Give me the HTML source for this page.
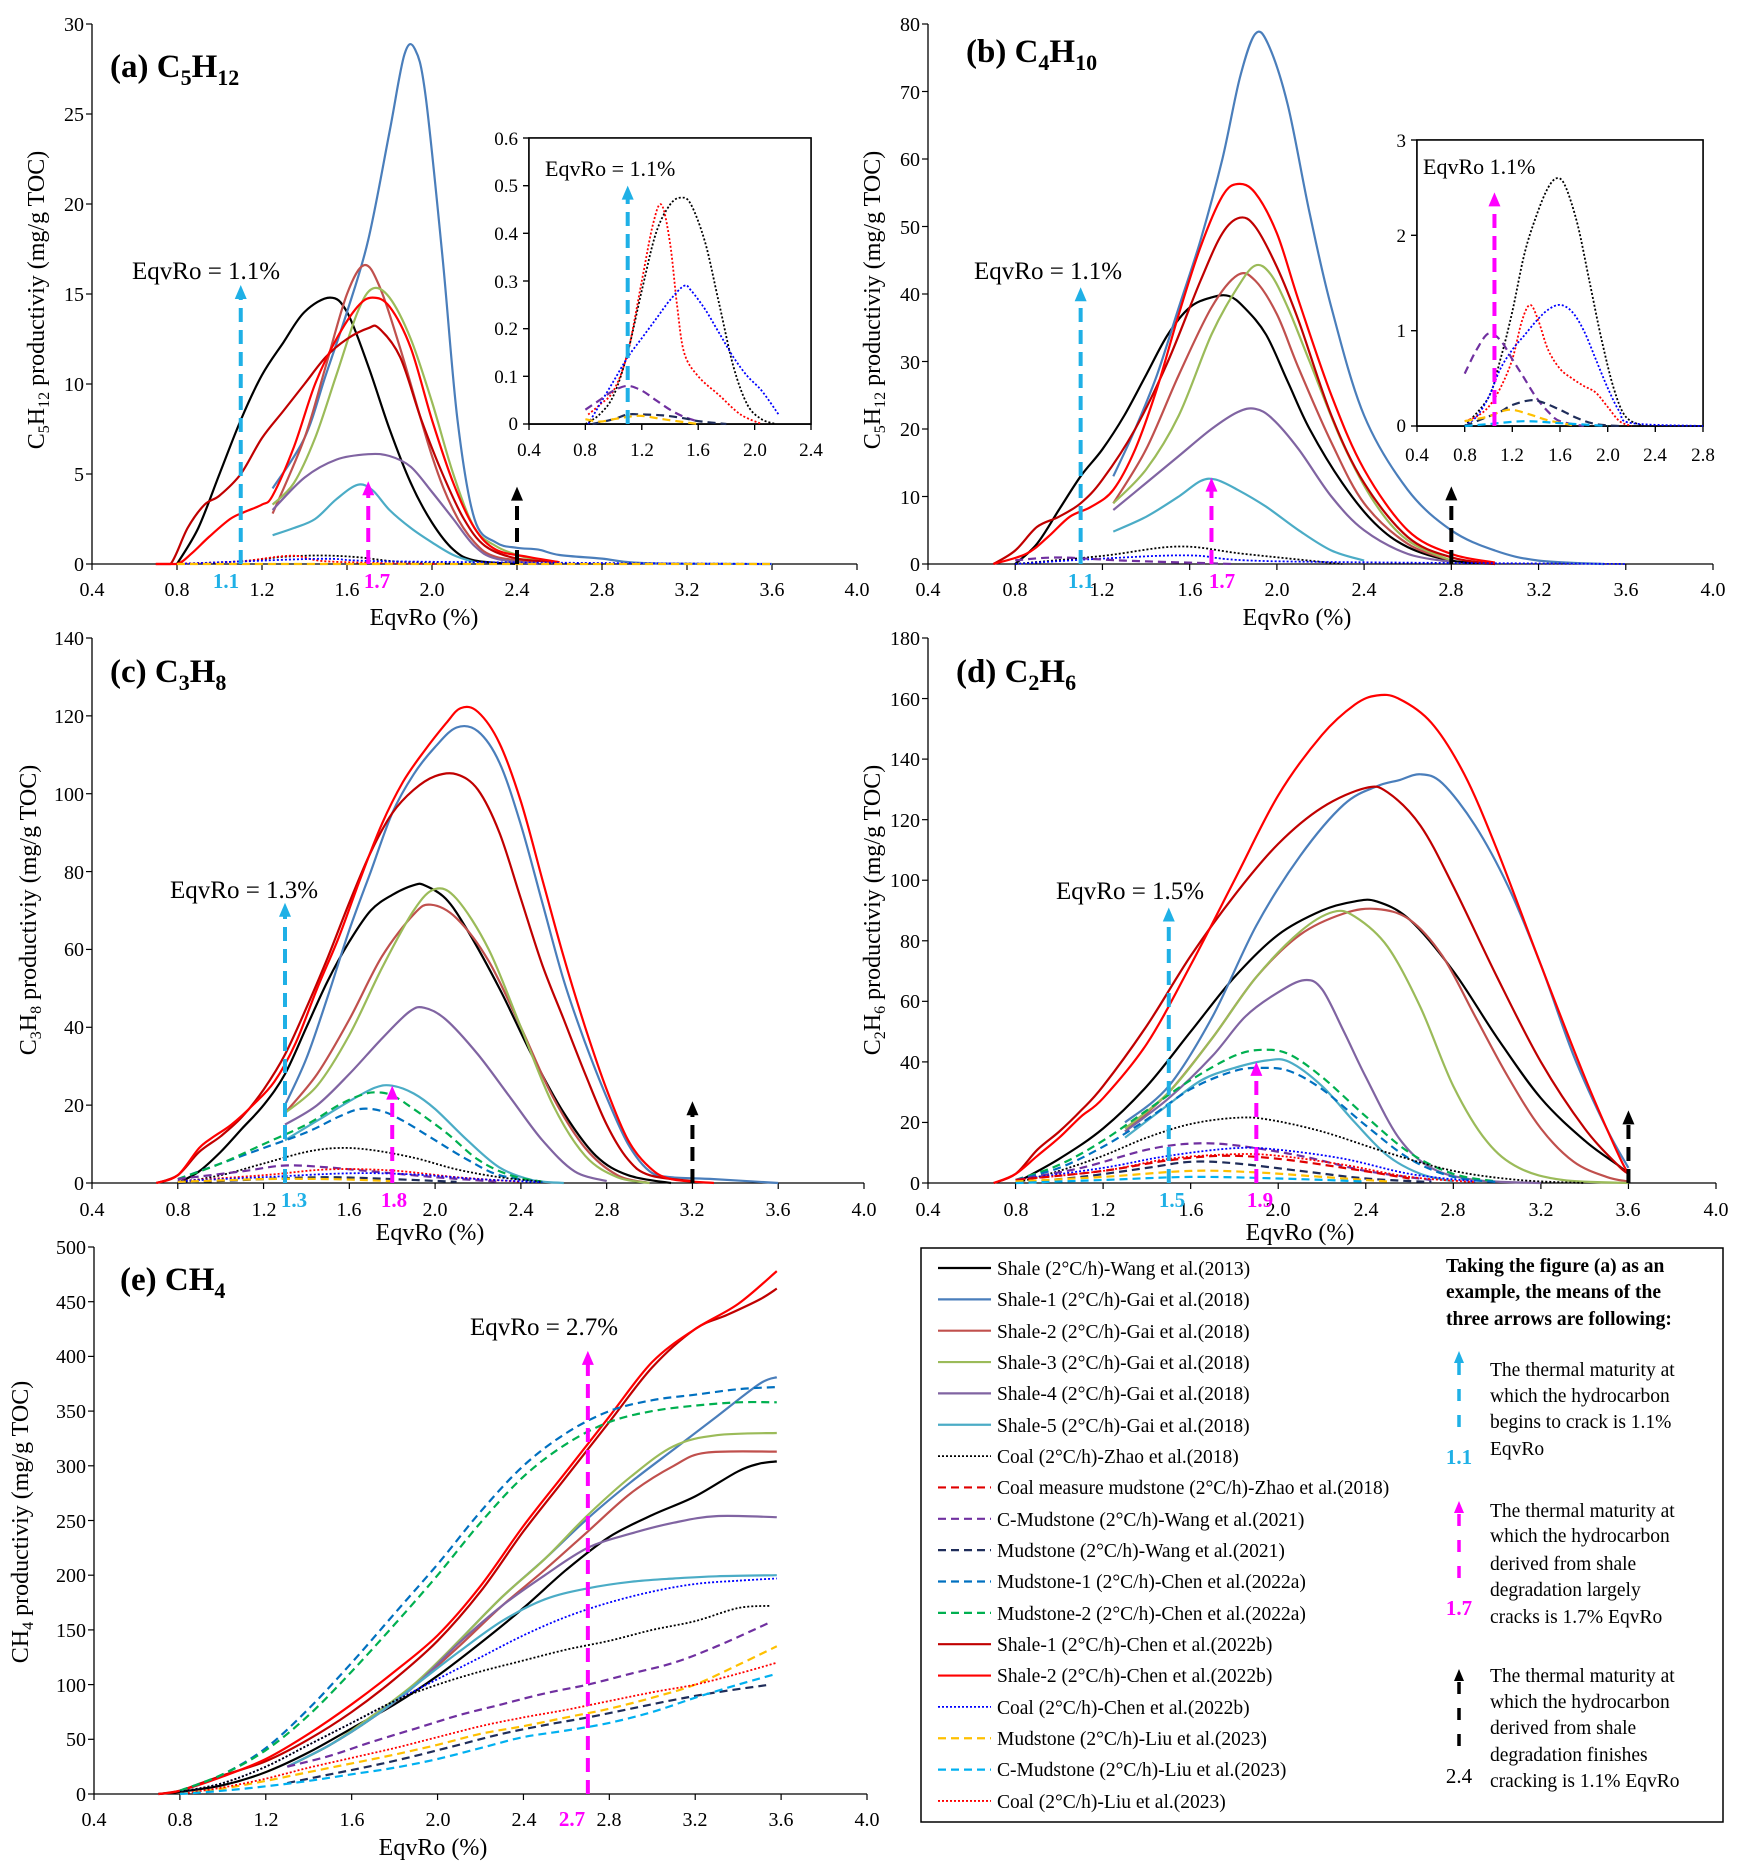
<!DOCTYPE html>
<html><head><meta charset="utf-8"><style>
body{margin:0;background:#fff}
svg{display:block}
text{font-family:"Liberation Serif",serif;fill:#000}
.t{font-size:20px}
.tr{font-size:20px;text-anchor:end}
.tm{font-size:20px;text-anchor:middle}
.ti{font-size:19px;text-anchor:middle}
.tir{font-size:19px;text-anchor:end}
.at{font-size:24px;text-anchor:middle}
.pl{font-size:33px;font-weight:bold}
.an{font-size:25px}
.lg{font-size:19.5px}
.rb{font-size:19.5px;font-weight:bold}
.bl{font-size:21px;font-weight:bold;text-anchor:middle}
</style></head><body>
<svg id="s" width="1753" height="1875" viewBox="0 0 1753 1875" xmlns="http://www.w3.org/2000/svg">
<rect width="1753" height="1875" fill="#fff"/>
<g id="g"></g>

<!-- Panel a -->
<g class="tm">
<text x="92" y="596">0.4</text><text x="177" y="596">0.8</text><text x="262" y="596">1.2</text><text x="347" y="596">1.6</text><text x="432" y="596">2.0</text><text x="517" y="596">2.4</text><text x="602" y="596">2.8</text><text x="687" y="596">3.2</text><text x="772" y="596">3.6</text><text x="857" y="596">4.0</text>
</g>
<g class="tr">
<text x="84" y="571">0</text><text x="84" y="481">5</text><text x="84" y="391">10</text><text x="84" y="301">15</text><text x="84" y="211">20</text><text x="84" y="121">25</text><text x="84" y="31">30</text>
</g>
<text class="at" x="424" y="625">EqvRo (%)</text>
<text class="at" transform="translate(44,300) rotate(-90)">C<tspan font-size="16" dy="5">5</tspan><tspan dy="-5">H</tspan><tspan font-size="16" dy="5">12</tspan><tspan dy="-5"> productiviy (mg/g TOC)</tspan></text>
<text class="pl" x="110" y="77">(a) C<tspan font-size="22" dy="8">5</tspan><tspan dy="-8">H</tspan><tspan font-size="22" dy="8">12</tspan></text>
<text class="an" x="132" y="279">EqvRo = 1.1%</text>
<text class="bl" x="226" y="588" fill="#1fb0e6" style="fill:#1fb0e6">1.1</text>
<text class="bl" x="377" y="588" style="fill:#ff00ff">1.7</text>
<!-- inset a -->
<g class="ti">
<text x="529" y="456">0.4</text><text x="585" y="456">0.8</text><text x="642" y="456">1.2</text><text x="698" y="456">1.6</text><text x="755" y="456">2.0</text><text x="811" y="456">2.4</text>
</g>
<g class="tir">
<text x="518" y="430">0</text><text x="518" y="383">0.1</text><text x="518" y="335">0.2</text><text x="518" y="288">0.3</text><text x="518" y="240">0.4</text><text x="518" y="192">0.5</text><text x="518" y="145">0.6</text>
</g>
<text class="an" x="545" y="176" style="font-size:22px">EqvRo = 1.1%</text>

<!-- Panel b -->
<g class="tm">
<text x="928" y="596">0.4</text><text x="1015" y="596">0.8</text><text x="1102" y="596">1.2</text><text x="1190" y="596">1.6</text><text x="1277" y="596">2.0</text><text x="1364" y="596">2.4</text><text x="1451" y="596">2.8</text><text x="1539" y="596">3.2</text><text x="1626" y="596">3.6</text><text x="1713" y="596">4.0</text>
</g>
<g class="tr">
<text x="920" y="571">0</text><text x="920" y="504">10</text><text x="920" y="436">20</text><text x="920" y="369">30</text><text x="920" y="301">40</text><text x="920" y="234">50</text><text x="920" y="166">60</text><text x="920" y="99">70</text><text x="920" y="31">80</text>
</g>
<text class="at" x="1297" y="625">EqvRo (%)</text>
<text class="at" transform="translate(880,300) rotate(-90)">C<tspan font-size="16" dy="5">5</tspan><tspan dy="-5">H</tspan><tspan font-size="16" dy="5">12</tspan><tspan dy="-5"> productiviy (mg/g TOC)</tspan></text>
<text class="pl" x="966" y="62">(b) C<tspan font-size="22" dy="8">4</tspan><tspan dy="-8">H</tspan><tspan font-size="22" dy="8">10</tspan></text>
<text class="an" x="974" y="279">EqvRo = 1.1%</text>
<text class="bl" x="1081" y="588" style="fill:#1fb0e6">1.1</text>
<text class="bl" x="1222" y="588" style="fill:#ff00ff">1.7</text>
<!-- inset b -->
<g class="ti">
<text x="1417" y="461">0.4</text><text x="1465" y="461">0.8</text><text x="1512" y="461">1.2</text><text x="1560" y="461">1.6</text><text x="1608" y="461">2.0</text><text x="1655" y="461">2.4</text><text x="1703" y="461">2.8</text>
</g>
<g class="tir">
<text x="1406" y="432">0</text><text x="1406" y="337">1</text><text x="1406" y="242">2</text><text x="1406" y="147">3</text>
</g>
<text class="an" x="1423" y="174" style="font-size:22px">EqvRo 1.1%</text>

<!-- Panel c -->
<g class="tm">
<text x="92" y="1216">0.4</text><text x="178" y="1216">0.8</text><text x="264" y="1216">1.2</text><text x="349" y="1216">1.6</text><text x="435" y="1216">2.0</text><text x="521" y="1216">2.4</text><text x="607" y="1216">2.8</text><text x="692" y="1216">3.2</text><text x="778" y="1216">3.6</text><text x="864" y="1216">4.0</text>
</g>
<g class="tr">
<text x="84" y="1190">0</text><text x="84" y="1112">20</text><text x="84" y="1034">40</text><text x="84" y="956">60</text><text x="84" y="879">80</text><text x="84" y="801">100</text><text x="84" y="723">120</text><text x="84" y="645">140</text>
</g>
<text class="at" x="430" y="1240">EqvRo (%)</text>
<text class="at" transform="translate(36,910) rotate(-90)">C<tspan font-size="16" dy="5">3</tspan><tspan dy="-5">H</tspan><tspan font-size="16" dy="5">8</tspan><tspan dy="-5"> productiviy (mg/g TOC)</tspan></text>
<text class="pl" x="110" y="682">(c) C<tspan font-size="22" dy="8">3</tspan><tspan dy="-8">H</tspan><tspan font-size="22" dy="8">8</tspan></text>
<text class="an" x="170" y="898">EqvRo = 1.3%</text>
<text class="bl" x="294" y="1207" style="fill:#1fb0e6">1.3</text>
<text class="bl" x="394" y="1207" style="fill:#ff00ff">1.8</text>

<!-- Panel d -->
<g class="tm">
<text x="928" y="1216">0.4</text><text x="1016" y="1216">0.8</text><text x="1103" y="1216">1.2</text><text x="1191" y="1216">1.6</text><text x="1278" y="1216">2.0</text><text x="1366" y="1216">2.4</text><text x="1453" y="1216">2.8</text><text x="1541" y="1216">3.2</text><text x="1628" y="1216">3.6</text><text x="1716" y="1216">4.0</text>
</g>
<g class="tr">
<text x="920" y="1190">0</text><text x="920" y="1129">20</text><text x="920" y="1069">40</text><text x="920" y="1008">60</text><text x="920" y="948">80</text><text x="920" y="887">100</text><text x="920" y="827">120</text><text x="920" y="766">140</text><text x="920" y="706">160</text><text x="920" y="645">180</text>
</g>
<text class="at" x="1300" y="1240">EqvRo (%)</text>
<text class="at" transform="translate(880,910) rotate(-90)">C<tspan font-size="16" dy="5">2</tspan><tspan dy="-5">H</tspan><tspan font-size="16" dy="5">6</tspan><tspan dy="-5"> productiviy (mg/g TOC)</tspan></text>
<text class="pl" x="956" y="682">(d) C<tspan font-size="22" dy="8">2</tspan><tspan dy="-8">H</tspan><tspan font-size="22" dy="8">6</tspan></text>
<text class="an" x="1056" y="899">EqvRo = 1.5%</text>
<text class="bl" x="1172" y="1207" style="fill:#1fb0e6">1.5</text>
<text class="bl" x="1260" y="1207" style="fill:#ff00ff">1.9</text>

<!-- Panel e -->
<g class="tm">
<text x="94" y="1826">0.4</text><text x="180" y="1826">0.8</text><text x="266" y="1826">1.2</text><text x="352" y="1826">1.6</text><text x="438" y="1826">2.0</text><text x="524" y="1826">2.4</text><text x="609" y="1826">2.8</text><text x="695" y="1826">3.2</text><text x="781" y="1826">3.6</text><text x="867" y="1826">4.0</text>
</g>
<g class="tr">
<text x="86" y="1801">0</text><text x="86" y="1746">50</text><text x="86" y="1692">100</text><text x="86" y="1637">150</text><text x="86" y="1582">200</text><text x="86" y="1528">250</text><text x="86" y="1473">300</text><text x="86" y="1418">350</text><text x="86" y="1363">400</text><text x="86" y="1309">450</text><text x="86" y="1254">500</text>
</g>
<text class="at" x="433" y="1855">EqvRo (%)</text>
<text class="at" transform="translate(28,1522) rotate(-90)">CH<tspan font-size="16" dy="5">4</tspan><tspan dy="-5"> productiviy (mg/g TOC)</tspan></text>
<text class="pl" x="120" y="1290">(e) CH<tspan font-size="22" dy="8">4</tspan></text>
<text class="an" x="470" y="1335">EqvRo = 2.7%</text>
<text class="bl" x="572" y="1826" style="fill:#ff00ff">2.7</text>

<!-- Legend -->
<rect x="921" y="1248" width="802" height="574" fill="none" stroke="#000" stroke-width="1.5"/>
<g class="lg">
<text x="997" y="1275">Shale (2°C/h)-Wang et al.(2013)</text>
<text x="997" y="1306">Shale-1 (2°C/h)-Gai et al.(2018)</text>
<text x="997" y="1338">Shale-2 (2°C/h)-Gai et al.(2018)</text>
<text x="997" y="1369">Shale-3 (2°C/h)-Gai et al.(2018)</text>
<text x="997" y="1400">Shale-4 (2°C/h)-Gai et al.(2018)</text>
<text x="997" y="1432">Shale-5 (2°C/h)-Gai et al.(2018)</text>
<text x="997" y="1463">Coal (2°C/h)-Zhao et al.(2018)</text>
<text x="997" y="1494">Coal measure mudstone (2°C/h)-Zhao et al.(2018)</text>
<text x="997" y="1526">C-Mudstone (2°C/h)-Wang et al.(2021)</text>
<text x="997" y="1557">Mudstone (2°C/h)-Wang et al.(2021)</text>
<text x="997" y="1588">Mudstone-1 (2°C/h)-Chen et al.(2022a)</text>
<text x="997" y="1620">Mudstone-2 (2°C/h)-Chen et al.(2022a)</text>
<text x="997" y="1651">Shale-1 (2°C/h)-Chen et al.(2022b)</text>
<text x="997" y="1682">Shale-2 (2°C/h)-Chen et al.(2022b)</text>
<text x="997" y="1714">Coal (2°C/h)-Chen et al.(2022b)</text>
<text x="997" y="1745">Mudstone (2°C/h)-Liu et al.(2023)</text>
<text x="997" y="1776">C-Mudstone (2°C/h)-Liu et al.(2023)</text>
<text x="997" y="1808">Coal (2°C/h)-Liu et al.(2023)</text>
</g>
<g class="rb">
<text x="1446" y="1272">Taking the figure (a) as an</text>
<text x="1446" y="1298">example, the means of the</text>
<text x="1446" y="1325">three arrows are following:</text>
</g>
<g class="lg">
<text x="1490" y="1376">The thermal maturity at</text>
<text x="1490" y="1402">which the hydrocarbon</text>
<text x="1490" y="1428">begins to crack is 1.1%</text>
<text x="1490" y="1455">EqvRo</text>
<text x="1490" y="1517">The thermal maturity at</text>
<text x="1490" y="1542">which the hydrocarbon</text>
<text x="1490" y="1570">derived from shale</text>
<text x="1490" y="1596">degradation largely</text>
<text x="1490" y="1623">cracks is 1.7%  EqvRo</text>
<text x="1490" y="1682">The thermal maturity at</text>
<text x="1490" y="1708">which the hydrocarbon</text>
<text x="1490" y="1734">derived from shale</text>
<text x="1490" y="1761">degradation finishes</text>
<text x="1490" y="1787">cracking is 1.1% EqvRo</text>
</g>
<text class="bl" x="1459" y="1464" style="fill:#1fb0e6">1.1</text>
<text class="bl" x="1459" y="1615" style="fill:#ff00ff">1.7</text>
<text x="1459" y="1783" style="font-size:21px;text-anchor:middle">2.4</text>
</svg>
<script>
const NS="http://www.w3.org/2000/svg",G=document.getElementById('g');
function el(t,a){const e=document.createElementNS(NS,t);for(const k in a)e.setAttribute(k,a[k]);G.appendChild(e);return e;}
const P={
a:{x0:92,x1:857,yb:564,yt:24,xmin:.4,xmax:4,ymax:30,ys:5,xs:.4},
ai:{x0:529,x1:811,yb:424,yt:138,xmin:.4,xmax:2.4,ymax:.6,ys:.1,xs:.4,box:1},
b:{x0:928,x1:1713,yb:564,yt:24,xmin:.4,xmax:4,ymax:80,ys:10,xs:.4},
bi:{x0:1417,x1:1703,yb:426,yt:140,xmin:.4,xmax:2.8,ymax:3,ys:1,xs:.4,box:1},
c:{x0:92,x1:864,yb:1183,yt:638,xmin:.4,xmax:4,ymax:140,ys:20,xs:.4},
d:{x0:928,x1:1716,yb:1183,yt:638,xmin:.4,xmax:4,ymax:180,ys:20,xs:.4},
e:{x0:94,x1:867,yb:1794,yt:1247,xmin:.4,xmax:4,ymax:500,ys:50,xs:.4}};
function X(p,v){return p.x0+(v-p.xmin)/(p.xmax-p.xmin)*(p.x1-p.x0);}
function Y(p,v){return p.yb-v/p.ymax*(p.yb-p.yt);}
for(const k in P){const p=P[k];
 if(p.box){el('rect',{x:p.x0,y:p.yt,width:p.x1-p.x0,height:p.yb-p.yt,fill:'#fff',stroke:'#000','stroke-width':1.5});}
 el('line',{x1:p.x0,y1:p.yt,x2:p.x0,y2:p.yb,stroke:'#000','stroke-width':1.3});
 el('line',{x1:p.x0,y1:p.yb,x2:p.x1,y2:p.yb,stroke:'#000','stroke-width':1.3});
 for(let v=0;v<=p.ymax+1e-9;v+=p.ys){const y=Y(p,v);el('line',{x1:p.x0-6,y1:y,x2:p.x0,y2:y,stroke:'#000','stroke-width':1.2});}
 for(let v=p.xmin;v<=p.xmax+1e-9;v+=p.xs){const x=X(p,v);el('line',{x1:x,y1:p.yb,x2:x,y2:p.yb+6,stroke:'#000','stroke-width':1.2});}
}
const C={k:'#000',b:'#4a7ebb',br:'#c0504d',g:'#9bbb59',pu:'#8064a2',cy:'#4bacc6',rd:'#e00000',pd:'#7030a0',nv:'#1f2d5a',bd:'#0070c0',gd:'#00b050',dr:'#c00000',r:'#ff0000',bo:'#0000ff',y:'#ffc000',cd:'#00b0f0'};
function curve(p,pts,col,st,w){
 const q=pts.map(a=>[X(p,a[0]),Y(p,Math.max(0,a[1]))]);let d='M'+q[0][0].toFixed(1)+','+q[0][1].toFixed(1);
 for(let i=0;i<q.length-1;i++){const p0=q[i-1]||q[i],p1=q[i],p2=q[i+1],p3=q[i+2]||q[i+1];
  let c1y=p1[1]+(p2[1]-p0[1])/6,c2y=p2[1]-(p3[1]-p1[1])/6;c1y=Math.min(c1y,p.yb);c2y=Math.min(c2y,p.yb);
  d+=' C'+(p1[0]+(p2[0]-p0[0])/6).toFixed(1)+','+c1y.toFixed(1)+' '+(p2[0]-(p3[0]-p1[0])/6).toFixed(1)+','+c2y.toFixed(1)+' '+p2[0].toFixed(1)+','+p2[1].toFixed(1);}
 const a={d:d,fill:'none',stroke:col,'stroke-width':w||(st=='o'?1.8:2.2),'stroke-linejoin':'round'};
 if(st=='d')a['stroke-dasharray']='8 5';if(st=='o')a['stroke-dasharray']='2 2';el('path',a);}
function arrow(p,x,v,col){const px=X(p,x),y0=p.yb,y1=Y(p,v);
 el('line',{x1:px,y1:y0,x2:px,y2:y1+12,stroke:col,'stroke-width':4,'stroke-dasharray':'14 8'});
 el('path',{d:`M${px-6},${y1+14} L${px},${y1} L${px+6},${y1+14} Z`,fill:col});}
// data
const S=[];
function s(pn,c,st,pts){S.push([pn,c,st,pts]);}
// panel a
s('a','k','s',[[.8,0],[.9,2],[1,5],[1.1,8],[1.2,10.5],[1.3,12.3],[1.4,14],[1.52,14.8],[1.6,14],[1.7,11],[1.8,7.5],[1.9,4.5],[2,2.3],[2.1,.8],[2.2,.2],[2.4,0]]);
s('a','b','s',[[1.25,4.2],[1.4,7],[1.5,10.5],[1.6,14],[1.7,18],[1.8,24],[1.87,28.3],[1.92,28.6],[1.97,26],[2.05,17],[2.12,8],[2.2,2.5],[2.3,1.2],[2.4,.9],[2.5,.8],[2.6,.5],[2.8,.3],[3,.05],[3.6,0]]);
s('a','br','s',[[1.25,2.8],[1.4,7],[1.5,11],[1.6,15],[1.68,16.6],[1.75,15.5],[1.85,12],[2,6],[2.1,3],[2.2,1.2],[2.3,.4],[2.5,.1]]);
s('a','g','s',[[1.25,3.3],[1.35,4.5],[1.45,7],[1.55,10.5],[1.65,14],[1.72,15.3],[1.8,14.8],[1.9,12.5],[2,9],[2.1,5],[2.2,2],[2.3,1],[2.4,.5],[2.5,.2]]);
s('a','pu','s',[[1.25,3],[1.4,4.8],[1.55,5.8],[1.7,6.1],[1.8,6],[1.9,5.4],[2,4],[2.1,2.5],[2.2,1],[2.3,.3],[2.5,0]]);
s('a','cy','s',[[1.25,1.6],[1.35,2],[1.45,2.5],[1.55,3.6],[1.65,4.4],[1.72,4.1],[1.8,3],[1.9,2],[2,1.2],[2.1,.5],[2.2,.1]]);
s('a','dr','s',[[.7,0],[.77,0],[.85,2],[.93,3.3],[1,3.8],[1.1,5],[1.2,7],[1.3,8.5],[1.4,10],[1.5,11.5],[1.6,12.5],[1.7,13.1],[1.75,13.1],[1.85,11.5],[1.95,8],[2.05,5],[2.15,2.5],[2.25,1],[2.4,.3],[2.6,.1]]);
s('a','r','s',[[.7,0],[.8,0],[.87,.6],[.95,1.5],[1.05,2.5],[1.12,2.9],[1.2,3.3],[1.25,3.8],[1.35,6.5],[1.45,10],[1.55,12.5],[1.65,14.3],[1.72,14.8],[1.8,14.3],[1.9,12],[2,8],[2.1,4.5],[2.2,2],[2.3,.8],[2.45,.4],[2.6,.1]]);
s('a','k','o',[[.8,0],[1.1,.15],[1.3,.4],[1.48,.47],[1.65,.38],[1.85,.12],[2.15,0]]);
s('a','r','o',[[.82,.02],[1.1,.15],[1.34,.46],[1.5,.15],[1.9,.02],[2.05,0]]);
s('a','bo','o',[[.8,0],[1.1,.14],[1.5,.29],[1.85,.14],[3.6,0]]);
s('a','y','d',[[.8,0],[3.6,0]]);
// inset a
s('ai','k','o',[[.8,0],[.9,.02],[1,.06],[1.1,.15],[1.2,.28],[1.3,.4],[1.4,.46],[1.48,.475],[1.55,.46],[1.65,.38],[1.75,.25],[1.85,.12],[1.95,.04],[2.05,.01],[2.15,0]]);
s('ai','r','o',[[.82,.02],[.9,.04],[1,.07],[1.1,.15],[1.2,.3],[1.28,.42],[1.34,.46],[1.4,.38],[1.45,.25],[1.5,.15],[1.6,.1],[1.75,.06],[1.9,.02],[2.05,0]]);
s('ai','bo','o',[[.82,0],[.9,.04],[1,.09],[1.1,.14],[1.2,.18],[1.3,.22],[1.4,.26],[1.5,.29],[1.55,.28],[1.65,.24],[1.75,.19],[1.85,.14],[1.95,.1],[2.05,.07],[2.17,.02]]);
s('ai','pd','d',[[.8,.03],[.9,.05],[1,.07],[1.1,.08],[1.2,.07],[1.3,.05],[1.4,.03],[1.5,.015],[1.6,.005]]);
s('ai','nv','d',[[.85,0],[1,.01],[1.1,.02],[1.2,.02],[1.35,.018],[1.5,.012],[1.6,.006],[1.8,0]]);
s('ai','y','d',[[.8,.01],[.9,.005],[1,.01],[1.1,.015],[1.2,.017],[1.35,.01],[1.5,.004],[1.6,0]]);
// panel b
s('b','k','s',[[.8,0],[.9,3],[1,8],[1.1,13],[1.2,17],[1.3,22],[1.4,28],[1.5,34],[1.6,38],[1.7,39.5],[1.78,39.7],[1.85,38],[1.95,34],[2.05,27],[2.15,20],[2.3,12],[2.45,6],[2.6,2.5],[2.8,.5],[3,0]]);
s('b','b','s',[[1.25,13],[1.35,20],[1.45,28],[1.55,38],[1.65,48],[1.75,60],[1.83,72],[1.9,78.5],[1.96,77],[2.05,68],[2.15,52],[2.25,38],[2.4,22],[2.6,11],[2.8,5],[3,2],[3.2,.5],[3.5,0]]);
s('b','br','s',[[1.25,9],[1.4,17],[1.55,28],[1.7,38],[1.82,42.8],[1.9,42],[2,37],[2.1,29],[2.25,18],[2.4,9],[2.6,3],[2.8,.5]]);
s('b','g','s',[[1.25,9],[1.4,14],[1.55,22],[1.7,34],[1.82,41],[1.9,44.2],[1.97,43],[2.05,38],[2.15,30],[2.3,18],[2.45,9],[2.6,3.5],[2.8,.5]]);
s('b','pu','s',[[1.25,8],[1.4,12],[1.55,16],[1.7,20],[1.82,22.5],[1.9,23],[1.98,21.5],[2.1,17],[2.25,10],[2.4,5],[2.6,1.5],[2.8,.3]]);
s('b','cy','s',[[1.25,4.8],[1.4,7],[1.55,10],[1.65,12.3],[1.72,12.5],[1.82,11],[1.95,8.5],[2.1,5],[2.25,2],[2.4,.5]]);
s('b','dr','s',[[.7,0],[.8,2],[.9,5.5],[1,7],[1.1,9],[1.2,12.5],[1.35,20],[1.5,30],[1.65,42],[1.75,49],[1.83,51.3],[1.9,50],[2,44],[2.1,36],[2.25,22],[2.4,12],[2.6,4],[2.8,1],[3,0]]);
s('b','r','s',[[.7,0],[.85,1.5],[.95,4],[1.05,7],[1.15,8.5],[1.25,11],[1.35,17],[1.45,26],[1.55,37],[1.65,47],[1.75,54.5],[1.82,56.3],[1.9,55],[2,49],[2.1,39],[2.25,25],[2.4,14],[2.6,5],[2.8,1.5],[3,.2]]);
s('b','k','o',[[.8,0],[1.2,1.2],[1.55,2.6],[1.85,1.5],[2.3,0]]);
s('b','bo','o',[[.8,0],[1.2,.8],[1.6,1.27],[2,.4],[3.6,0]]);
s('b','pd','d',[[.8,.55],[1,.97],[1.3,.5],[1.8,0]]);
// inset b
s('bi','k','o',[[.8,0],[1,.3],[1.1,.7],[1.2,1.2],[1.3,1.8],[1.4,2.2],[1.5,2.5],[1.58,2.6],[1.65,2.5],[1.75,2.1],[1.85,1.5],[1.95,.9],[2.05,.4],[2.15,.1],[2.3,0]]);
s('bi','r','o',[[.8,.05],[.9,.1],[1,.2],[1.1,.4],[1.2,.7],[1.28,1.1],[1.35,1.27],[1.42,1.1],[1.5,.8],[1.6,.6],[1.7,.5],[1.8,.42],[1.9,.35],[2,.2],[2.1,.05],[2.2,0]]);
s('bi','bo','o',[[.8,0],[.9,.1],[1,.3],[1.1,.6],[1.2,.8],[1.3,.95],[1.4,1.1],[1.5,1.22],[1.6,1.27],[1.7,1.2],[1.8,1],[1.9,.7],[2,.4],[2.1,.15],[2.2,.03],[2.8,0]]);
s('bi','pd','d',[[.8,.55],[.9,.8],[1,.97],[1.1,.9],[1.2,.7],[1.3,.5],[1.4,.3],[1.5,.15],[1.6,.05],[1.8,0]]);
s('bi','nv','d',[[.8,0],[1,.1],[1.1,.15],[1.2,.22],[1.35,.27],[1.45,.25],[1.6,.17],[1.75,.08],[1.9,.02],[2.1,0]]);
s('bi','y','d',[[.8,.05],[1,.1],[1.1,.15],[1.2,.17],[1.35,.12],[1.5,.06],[1.7,.01]]);
s('bi','cd','d',[[.8,0],[1,.02],[1.3,.05],[1.6,.03],[2,0]]);
// panel c
s('c','k','s',[[.8,0],[.9,3],[1,8],[1.1,14],[1.2,20],[1.3,28],[1.4,40],[1.5,52],[1.6,62],[1.7,70],[1.8,74],[1.9,76.5],[1.95,76.5],[2.05,73],[2.15,65],[2.3,50],[2.45,33],[2.6,18],[2.75,7],[2.9,2],[3.1,0]]);
s('c','b','s',[[1.3,20],[1.4,32],[1.5,48],[1.6,65],[1.7,80],[1.8,95],[1.9,105],[2,112],[2.1,117],[2.2,116],[2.3,108],[2.4,92],[2.5,72],[2.6,52],[2.7,36],[2.8,22],[2.9,10],[3,3],[3.1,1.5],[3.3,1],[3.6,0]]);
s('c','br','s',[[1.3,18],[1.45,28],[1.6,42],[1.75,58],[1.9,69],[1.98,71.5],[2.1,68],[2.25,57],[2.4,40],[2.55,22],[2.7,9],[2.85,2],[3,0]]);
s('c','g','s',[[1.3,18],[1.45,25],[1.6,38],[1.75,55],[1.9,70],[2,75.5],[2.1,73],[2.25,60],[2.4,40],[2.55,20],[2.7,7],[2.85,1.5],[3,0]]);
s('c','pu','s',[[1.3,15],[1.45,20],[1.6,28],[1.75,37],[1.88,44],[1.95,45],[2.05,42],[2.2,33],[2.35,22],[2.5,11],[2.65,3],[2.8,.5]]);
s('c','cy','s',[[1.3,11],[1.45,16],[1.6,21],[1.72,24.5],[1.8,25],[1.9,23],[2,19],[2.15,11],[2.3,4],[2.45,.8],[2.6,0]]);
s('c','dr','s',[[.7,0],[.8,2],[.9,8],[1,12],[1.1,17],[1.2,24],[1.3,33],[1.4,45],[1.5,58],[1.6,72],[1.7,85],[1.8,95],[1.9,101],[2,104.5],[2.1,105],[2.2,101],[2.3,90],[2.4,73],[2.5,56],[2.6,42],[2.7,28],[2.8,15],[2.9,6],[3,2],[3.2,.5]]);
s('c','r','s',[[.7,0],[.8,2],[.9,9],[.97,12],[1.05,15],[1.15,20],[1.25,26],[1.35,36],[1.45,50],[1.55,63],[1.65,78],[1.75,92],[1.85,103],[1.95,111],[2.05,118],[2.12,122],[2.2,121],[2.3,113],[2.4,98],[2.5,78],[2.6,58],[2.7,40],[2.8,24],[2.9,11],[3,4],[3.1,1],[3.3,0]]);
s('c','bd','d',[[.8,1],[1,5],[1.2,9],[1.4,13],[1.55,17],[1.65,19],[1.75,18.5],[1.85,16],[2,11],[2.15,6],[2.3,2],[2.5,.3]]);
s('c','gd','d',[[.8,1],[1,5],[1.2,10],[1.4,15],[1.55,20],[1.65,22.5],[1.72,23.3],[1.8,22.5],[1.9,19],[2.05,13],[2.2,6],[2.35,2],[2.5,.3]]);
s('c','k','o',[[.8,0],[1,2],[1.2,5],[1.4,8],[1.55,9],[1.7,8.5],[1.9,6.5],[2.1,3.5],[2.3,1.5],[2.5,.3]]);
s('c','pd','d',[[.8,1],[1.1,3],[1.3,4.5],[1.5,4],[1.7,3],[2,1.5],[2.3,.3]]);
s('c','r','o',[[.8,.5],[1.2,2],[1.5,3.5],[1.8,3.2],[2.1,1.5],[2.4,.3]]);
s('c','bo','o',[[.8,.5],[1.2,1.5],[1.6,2.5],[1.9,2.2],[2.2,1],[2.5,.2]]);
s('c','nv','d',[[.8,0],[1.2,1],[1.5,1.5],[1.8,1],[2.1,.3]]);
s('c','y','d',[[.8,.3],[1.2,1],[1.5,1],[1.8,.5]]);
// panel d
s('d','k','s',[[.8,0],[1,8],[1.2,18],[1.4,32],[1.6,50],[1.8,68],[2,82],[2.2,90],[2.35,93],[2.45,93],[2.6,87],[2.8,70],[3,48],[3.2,28],[3.4,14],[3.55,6],[3.6,3]]);
s('d','b','s',[[1.3,20],[1.5,32],[1.7,55],[1.9,85],[2.1,108],[2.3,125],[2.45,131],[2.55,133],[2.65,135],[2.75,132],[2.9,118],[3.05,98],[3.2,72],[3.35,42],[3.5,18],[3.6,5]]);
s('d','br','s',[[1.3,17],[1.5,30],[1.7,48],[1.9,68],[2.1,82],[2.3,89],[2.45,90.5],[2.6,87],[2.75,75],[2.9,55],[3.05,35],[3.2,18],[3.35,7],[3.5,2],[3.6,.5]]);
s('d','g','s',[[1.3,18],[1.5,30],[1.7,48],[1.9,68],[2.1,83],[2.25,89.5],[2.35,88],[2.5,78],[2.65,58],[2.8,32],[2.95,14],[3.1,5],[3.3,1],[3.6,0]]);
s('d','pu','s',[[1.3,17],[1.5,28],[1.7,42],[1.85,55],[2,63],[2.12,67],[2.2,64],[2.3,50],[2.4,35],[2.55,15],[2.7,5],[2.9,1],[3.2,0]]);
s('d','cy','s',[[1.3,15],[1.5,26],[1.65,34],[1.8,38],[1.95,40.5],[2.05,40],[2.2,32],[2.35,20],[2.5,9],[2.65,3],[2.8,.5]]);
s('d','dr','s',[[.7,0],[.8,3],[.9,11],[1,17],[1.1,24],[1.2,32],[1.4,52],[1.6,75],[1.8,95],[2,112],[2.2,124],[2.4,130.5],[2.5,129],[2.65,118],[2.8,98],[3,68],[3.2,40],[3.4,18],[3.55,6],[3.6,3]]);
s('d','r','s',[[.7,0],[.8,3],[.9,9],[1,15],[1.1,22],[1.2,28],[1.4,46],[1.6,72],[1.8,100],[2,128],[2.2,148],[2.35,158],[2.45,161],[2.55,160],[2.7,152],[2.85,135],[3,110],[3.2,72],[3.4,35],[3.55,10],[3.6,3]]);
s('d','gd','d',[[.8,1],[1,6],[1.2,14],[1.4,24],[1.6,34],[1.8,42],[1.93,44],[2.05,42.5],[2.2,35],[2.4,22],[2.6,10],[2.8,3],[3,.5]]);
s('d','bd','d',[[.8,1],[1,5],[1.2,12],[1.4,21],[1.6,31],[1.8,37],[1.93,38],[2.05,37],[2.2,31],[2.4,19],[2.6,8],[2.8,2],[3,.3]]);
s('d','k','o',[[.8,0],[1,4],[1.2,9],[1.4,15],[1.6,19.5],[1.8,21.5],[1.95,21],[2.2,17],[2.5,10],[2.8,4],[3.1,1],[3.4,0]]);
s('d','pd','d',[[.8,1],[1.1,5],[1.4,11],[1.6,13],[1.8,12.5],[2.1,9],[2.4,4],[2.7,1]]);
s('d','bo','o',[[.8,1],[1.2,5],[1.5,9],[1.8,11.5],[2,11],[2.3,8],[2.6,3],[2.9,.5]]);
s('d','r','o',[[.8,1],[1.2,4],[1.5,8],[1.8,9.5],[2,9],[2.3,6],[2.6,2],[2.9,.3]]);
s('d','rd','d',[[.8,1],[1.2,4],[1.5,7.5],[1.75,9],[2,8],[2.3,5],[2.6,1.5]]);
s('d','nv','d',[[.8,0],[1.1,2],[1.4,5],[1.6,7],[1.8,6.5],[2.1,4],[2.4,1.5],[2.7,.3]]);
s('d','y','d',[[.8,.5],[1.2,2],[1.6,4],[1.9,3.5],[2.2,2],[2.5,.5]]);
s('d','cd','d',[[.8,0],[1.2,1],[1.6,2],[2,1.5],[2.4,.5]]);
// panel e
s('e','k','s',[[.7,0],[.8,2],[1,8],[1.2,20],[1.4,38],[1.6,60],[1.8,82],[2,108],[2.2,138],[2.4,170],[2.6,205],[2.8,235],[3,255],[3.2,272],[3.4,295],[3.5,302],[3.58,304]]);
s('e','b','s',[[1.3,25],[1.5,45],[1.7,70],[1.9,100],[2.1,140],[2.3,180],[2.5,215],[2.7,252],[2.9,285],[3.1,315],[3.3,345],[3.5,375],[3.58,381]]);
s('e','br','s',[[1.3,25],[1.5,45],[1.7,70],[1.9,100],[2.1,135],[2.3,172],[2.5,205],[2.7,240],[2.9,275],[3.1,300],[3.25,312],[3.58,313]]);
s('e','g','s',[[1.3,25],[1.5,45],[1.7,72],[1.9,102],[2.1,140],[2.3,180],[2.5,215],[2.7,255],[2.9,290],[3.1,318],[3.3,328],[3.58,330]]);
s('e','pu','s',[[1.3,25],[1.5,45],[1.7,70],[1.9,100],[2.1,138],[2.3,172],[2.5,200],[2.7,225],[2.9,238],[3.1,248],[3.3,254],[3.58,253]]);
s('e','cy','s',[[1.3,25],[1.5,45],[1.7,70],[1.9,100],[2.1,130],[2.3,158],[2.5,178],[2.7,188],[2.9,194],[3.1,197],[3.3,199],[3.58,200]]);
s('e','dr','s',[[.7,0],[.8,3],[.9,10],[1,17],[1.2,30],[1.4,50],[1.6,75],[1.8,105],[2,140],[2.2,185],[2.4,240],[2.6,290],[2.8,340],[3,390],[3.2,425],[3.35,438],[3.5,452],[3.58,462]]);
s('e','r','s',[[.7,0],[.8,3],[1,16],[1.2,32],[1.4,55],[1.6,82],[1.8,112],[2,145],[2.2,190],[2.4,245],[2.6,295],[2.8,345],[3,395],[3.2,425],[3.4,448],[3.58,478]]);
s('e','bd','d',[[.8,3],[1,18],[1.2,42],[1.4,78],[1.6,120],[1.8,165],[2,210],[2.2,258],[2.4,300],[2.6,330],[2.8,350],[3,360],[3.2,365],[3.4,370],[3.58,372]]);
s('e','gd','d',[[.8,3],[1,18],[1.2,40],[1.4,72],[1.6,112],[1.8,155],[2,200],[2.2,248],[2.4,290],[2.6,320],[2.8,340],[3,350],[3.2,355],[3.4,358],[3.58,358]]);
s('e','bo','o',[[.8,2],[1,10],[1.2,25],[1.4,45],[1.6,65],[1.8,85],[2,105],[2.2,125],[2.4,145],[2.6,162],[2.8,175],[3,185],[3.2,192],[3.4,195],[3.58,197]]);
s('e','k','o',[[.8,2],[1,10],[1.2,25],[1.4,45],[1.6,65],[1.8,85],[2,100],[2.2,112],[2.4,122],[2.6,132],[2.8,140],[3,150],[3.2,158],[3.4,170],[3.55,172]]);
s('e','pd','d',[[1.3,25],[1.5,35],[1.7,48],[1.9,60],[2.1,72],[2.3,82],[2.5,92],[2.7,100],[2.9,110],[3.1,120],[3.3,135],[3.55,157]]);
s('e','y','d',[[.8,0],[1,5],[1.2,12],[1.4,20],[1.6,28],[1.8,36],[2,45],[2.2,55],[2.4,62],[2.6,70],[2.8,78],[3,88],[3.2,100],[3.4,118],[3.58,135]]);
s('e','r','o',[[.8,0],[1,6],[1.2,14],[1.4,24],[1.6,33],[1.8,42],[2,52],[2.2,62],[2.4,70],[2.6,77],[2.8,85],[3,93],[3.2,100],[3.4,110],[3.58,120]]);
s('e','nv','d',[[1.3,10],[1.5,18],[1.7,26],[1.9,35],[2.1,45],[2.3,55],[2.5,63],[2.7,70],[2.9,78],[3.1,86],[3.3,93],[3.55,100]]);
s('e','cd','d',[[.8,0],[1,3],[1.2,7],[1.4,12],[1.6,18],[1.8,24],[2,32],[2.2,42],[2.4,52],[2.6,58],[2.8,65],[3,75],[3.2,88],[3.4,100],[3.58,110]]);
// draw non-inset first, then insets above
const order=['a','b','c','d','e'];
for(const pn of order)for(const q of S)if(q[0]==pn)curve(P[pn],q[3],C[q[1]],q[2]);
arrow(P.a,1.1,15.5,'#1fb0e6');arrow(P.a,1.7,4.6,'#ff00ff');arrow(P.a,2.4,4.3,'#000');
arrow(P.b,1.1,41,'#1fb0e6');arrow(P.b,1.7,12.8,'#ff00ff');arrow(P.b,2.8,11.5,'#000');
arrow(P.c,1.3,72,'#1fb0e6');arrow(P.c,1.8,25,'#ff00ff');arrow(P.c,3.2,21,'#000');
arrow(P.d,1.5,91,'#1fb0e6');arrow(P.d,1.9,40,'#ff00ff');arrow(P.d,3.6,24,'#000');
arrow(P.e,2.7,405,'#ff00ff');
for(const pn of ['ai','bi']){const p=P[pn];
 el('rect',{x:p.x0,y:p.yt,width:p.x1-p.x0,height:p.yb-p.yt,fill:'#fff',stroke:'#000','stroke-width':1.5});
 el('line',{x1:p.x0,y1:p.yb,x2:p.x1,y2:p.yb,stroke:'#000','stroke-width':1.5});
 for(let v=0;v<=p.ymax+1e-9;v+=p.ys){const y=Y(p,v);el('line',{x1:p.x0-6,y1:y,x2:p.x0,y2:y,stroke:'#000','stroke-width':1.2});}
 for(let v=p.xmin;v<=p.xmax+1e-9;v+=p.xs){const x=X(p,v);el('line',{x1:x,y1:p.yb,x2:x,y2:p.yb+6,stroke:'#000','stroke-width':1.2});}
 for(const q of S)if(q[0]==pn)curve(p,q[3],C[q[1]],q[2]);}
arrow(P.ai,1.1,0.5,'#1fb0e6');arrow(P.bi,1.05,2.45,'#ff00ff');
// legend samples
const L=[['k','s'],['b','s'],['br','s'],['g','s'],['pu','s'],['cy','s'],['k','o'],['rd','d'],['pd','d'],['nv','d'],['bd','d'],['gd','d'],['dr','s'],['r','s'],['bo','o'],['y','d'],['cd','d'],['r','o']];
L.forEach((l,i)=>{const y=1268+i*31.35;const a={x1:938,y1:y,x2:991,y2:y,stroke:C[l[0]],'stroke-width':l[1]=='o'?1.8:2.2};
 if(l[1]=='d')a['stroke-dasharray']='8 5';if(l[1]=='o')a['stroke-dasharray']='2 2';el('line',a);});
function la(x,y0,y1,col){el('line',{x1:x,y1:y1,x2:x,y2:y0+10,stroke:col,'stroke-width':3.5,'stroke-dasharray':'12 14'});
 el('path',{d:`M${x-5},${y0+12} L${x},${y0} L${x+5},${y0+12} Z`,fill:col});}
la(1459,1351,1427,'#1fb0e6');la(1459,1501,1578,'#ff00ff');la(1459,1669,1746,'#000');
</script>
</body></html>
